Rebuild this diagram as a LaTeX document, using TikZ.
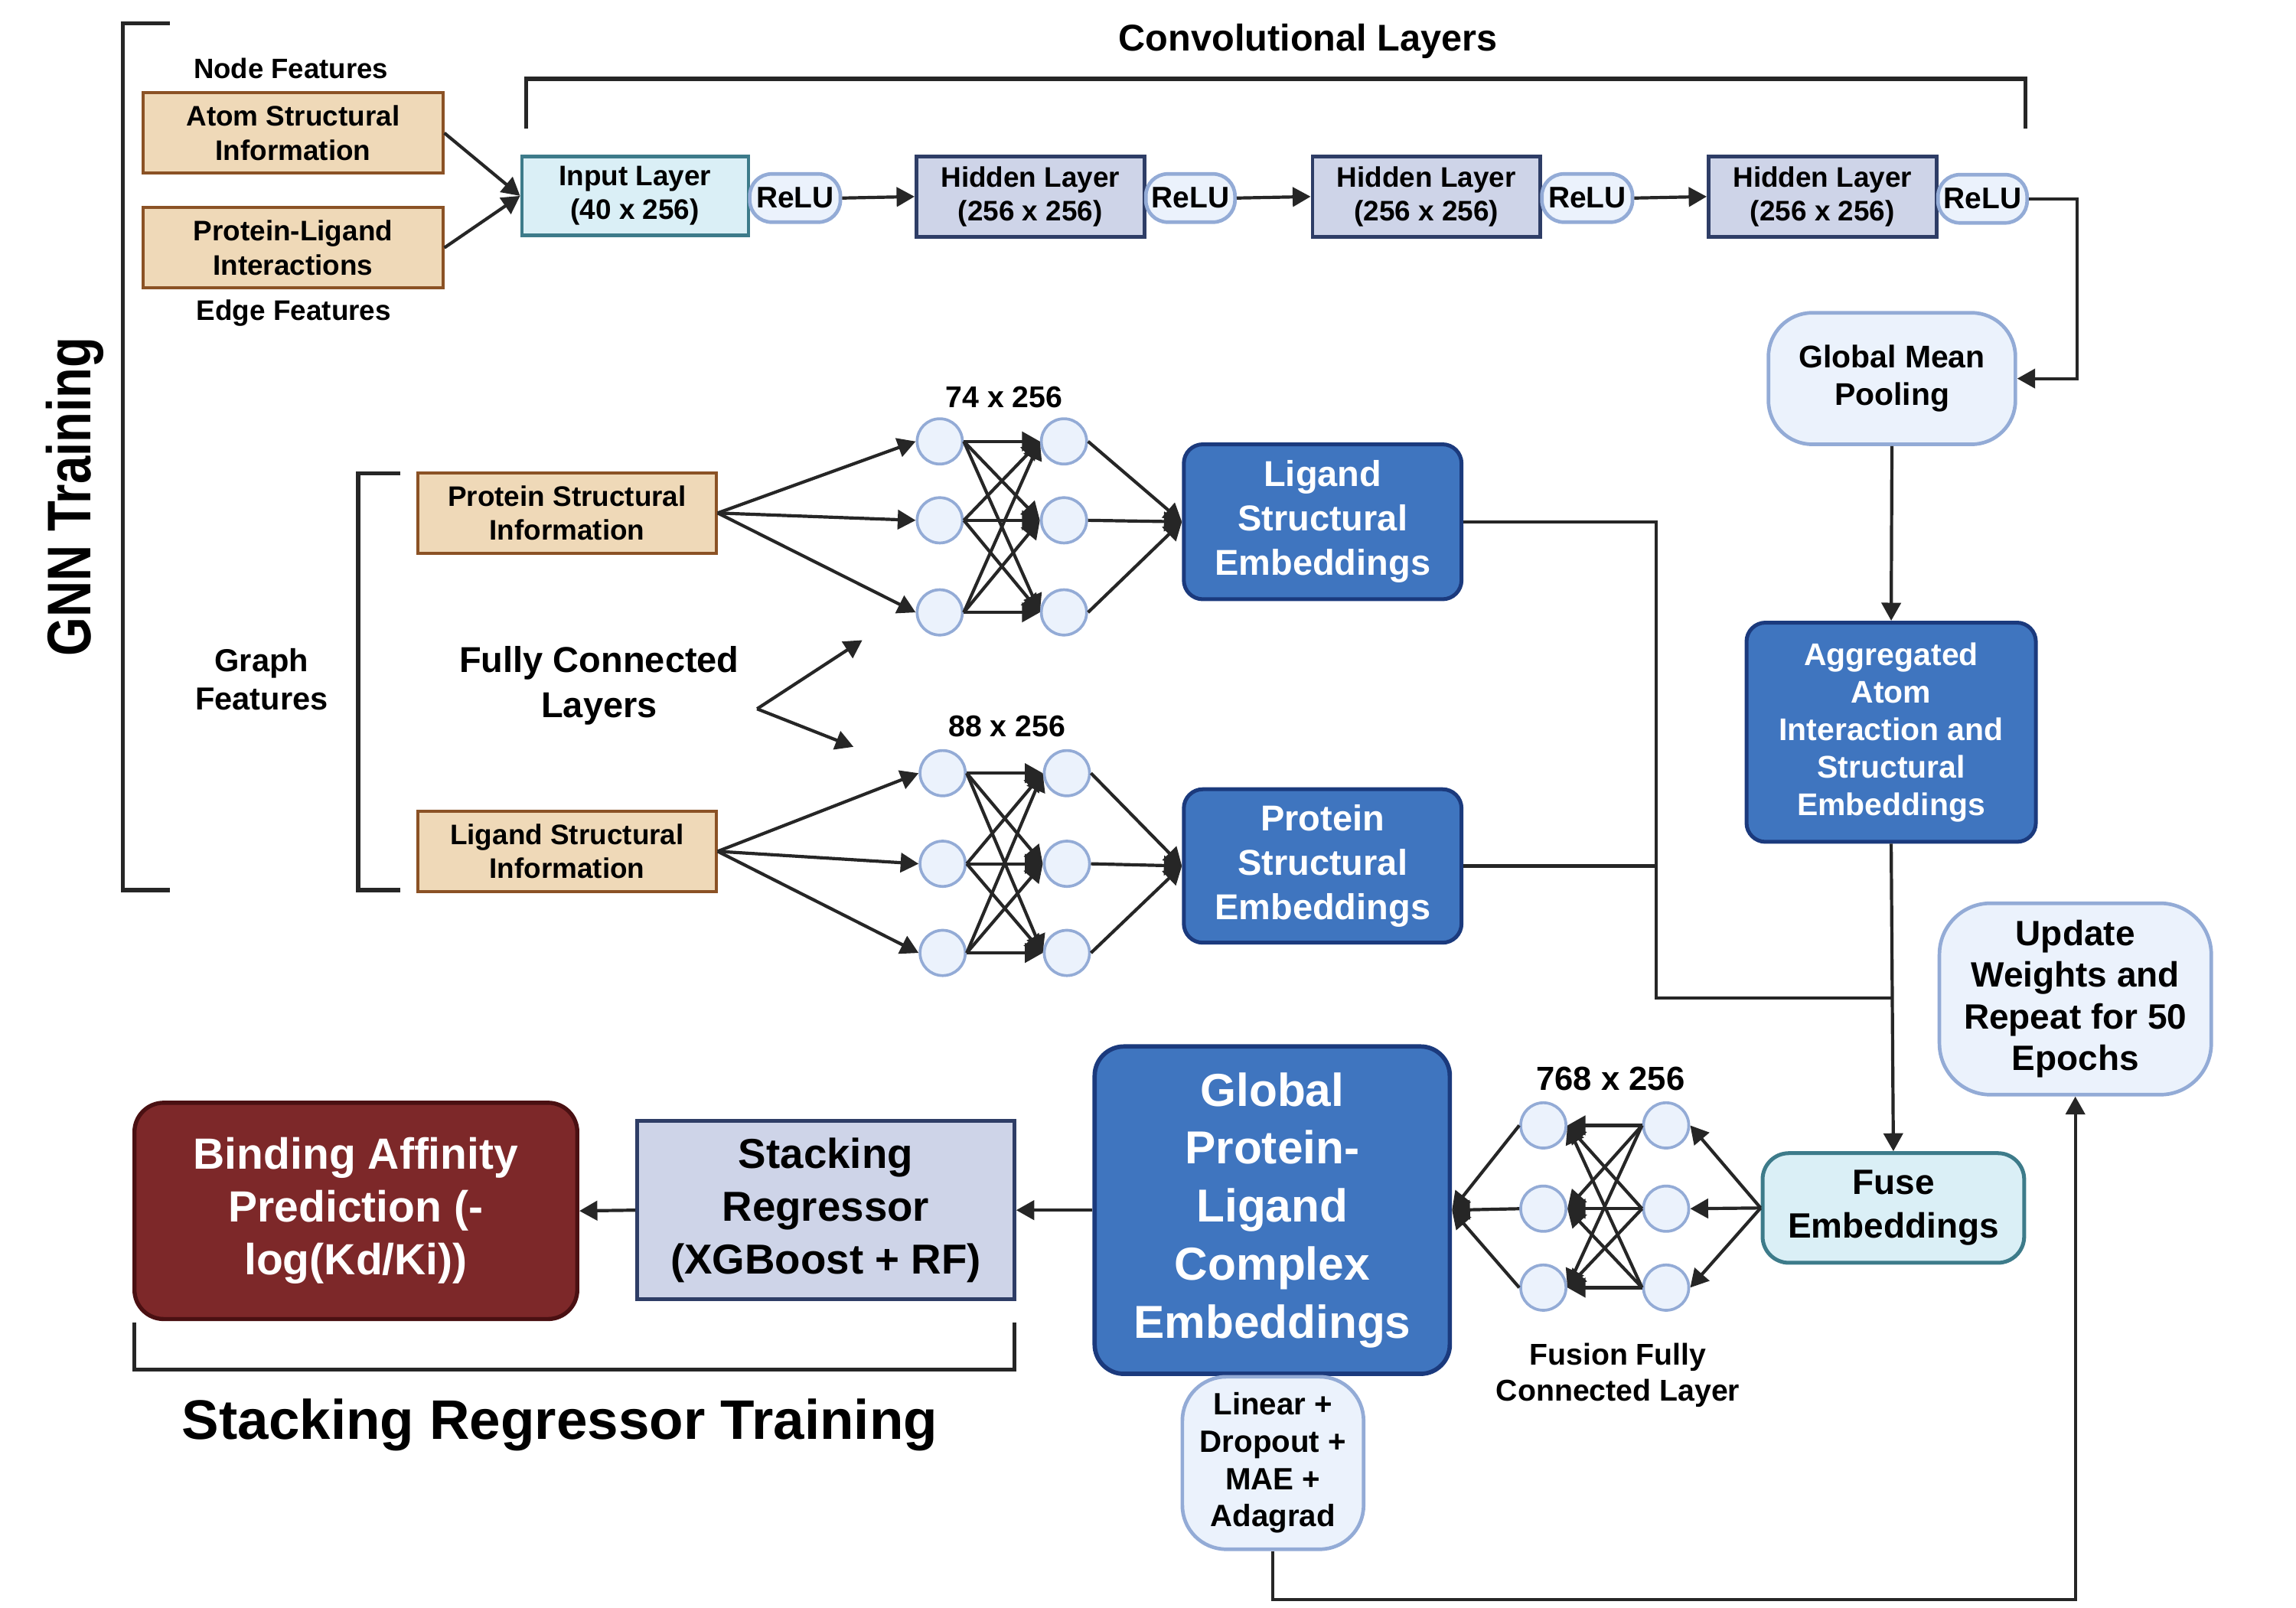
\documentclass[tikz,border=0pt]{standalone}
\usepackage{fontspec}
\setmainfont{Liberation Sans}
\usetikzlibrary{arrows.meta}
\newcommand\fsz[1]{\fontsize{#1}{\dimexpr #1*6/5\relax}\selectfont}
\definecolor{tanfill}{HTML}{EFD9B8}
\definecolor{tanedge}{HTML}{8B5225}
\definecolor{cyanfill}{HTML}{DAEFF6}
\definecolor{cyanedge}{HTML}{3D7B8A}
\definecolor{hidfill}{HTML}{CED4E8}
\definecolor{hidedge}{HTML}{2E3D66}
\definecolor{palefill}{HTML}{EBF2FC}
\definecolor{paleedge}{HTML}{93ABD6}
\definecolor{bluefill}{HTML}{3F75BF}
\definecolor{blueedge}{HTML}{1B3A7D}
\definecolor{redfill}{HTML}{7D2829}
\definecolor{rededge}{HTML}{4A1012}
\definecolor{ink}{HTML}{262626}
\begin{document}
\begin{tikzpicture}[x=0.02cm,y=-0.02cm,
  wh/.style 2 args={minimum width=#1*0.02cm, minimum height=#2*0.02cm},
  box/.style={draw, inner sep=0pt, align=center, line width=1.2pt},
  tanbox/.style={box, fill=tanfill, draw=tanedge, font=\bfseries\fsz{11pt}},
  inbox/.style={box, fill=cyanfill, draw=cyanedge, line width=1.3pt, font=\bfseries\fsz{11pt}},
  hidbox/.style={box, fill=hidfill, draw=hidedge, line width=1.4pt, font=\bfseries\fsz{11pt}},
  relu/.style={box, fill=palefill, draw=paleedge, line width=1.4pt, rounded corners=15*0.02cm, font=\bfseries\fsz{11.6pt}},
  palebox/.style={box, fill=palefill, draw=paleedge, line width=1.4pt},
  bluebox/.style={box, fill=bluefill, draw=blueedge, line width=1.5pt, rounded corners=13*0.02cm, text=white},
  lbl/.style={align=center, inner sep=0pt},
  conn/.style={draw=ink, line width=1.25pt},
  arr/.style={conn, -{Triangle[length=7pt,width=7.5pt]}},
  brk/.style={draw=ink, line width=1.6pt},
  neuron/.style={circle, draw=paleedge, fill=palefill, line width=1.1pt, minimum size=31*0.02cm, inner sep=0pt},
]
\useasboundingbox (0,0) rectangle (1571,1100);

% ---------- brackets ----------
\draw[brk] (116,16) -- (84,16) -- (84,609) -- (116,609);
\draw[brk] (274,324) -- (245,324) -- (245,609) -- (274,609);
\draw[brk] (360,88) -- (360,54) -- (1386,54) -- (1386,88);
\draw[brk] (92,905) -- (92,937) -- (694,937) -- (694,905);

% ---------- labels ----------
\node[lbl, rotate=90, font=\bfseries\fontsize{24pt}{28pt}\selectfont] (gnn) at (51,340) {\scalebox{0.81}[1]{GNN Training}};
\node[lbl, font=\bfseries\fsz{10.9pt}] (nodef) at (199,47) {Node Features};
\node[lbl, font=\bfseries\fsz{11pt}] (edgef) at (201,214) {Edge Features};
\node[lbl, font=\bfseries\fsz{14.5pt}] (convl) at (895,28) {Convolutional Layers};
\node[lbl, font=\bfseries\fsz{12.4pt}] (graphf) at (179,465) {Graph\\Features};
\node[lbl, font=\bfseries\fontsize{14pt}{17.6pt}\selectfont] (fcl) at (410,469) {Fully Connected\\Layers};
\node[lbl, font=\bfseries\fsz{11.7pt}] (l74) at (687,272) {74 x 256};
\node[lbl, font=\bfseries\fsz{11.7pt}] (l88) at (689,497) {88 x 256};
\node[lbl, font=\bfseries\fsz{13pt}] (l768) at (1102,738) {768 x 256};
\node[lbl, font=\bfseries\fsz{11.7pt}] (fusl) at (1107,941) {Fusion Fully\\Connected Layer};
\node[lbl, font=\bfseries\fsz{21.7pt}] (srt) at (383,975) {Stacking Regressor Training};

% ---------- top row ----------
\node[tanbox, wh={205}{55}] (atom) at (200.5,91) {Atom Structural\\Information};
\node[tanbox, wh={205}{55}] (pli) at (200.5,169.5) {Protein-Ligand\\Interactions};
\node[inbox, wh={155}{54}] (input) at (434.5,134) {Input Layer\\(40 x 256)};
\node[relu, wh={62}{33}] (relu1) at (544,135.5) {ReLU};
\node[hidbox, wh={156}{55}] (hid1) at (705,134.5) {Hidden Layer\\(256 x 256)};
\node[relu, wh={61}{33}] (relu2) at (814.5,135.5) {ReLU};
\node[hidbox, wh={156}{55}] (hid2) at (976,134.5) {Hidden Layer\\(256 x 256)};
\node[relu, wh={62}{33}] (relu3) at (1086,135.5) {ReLU};
\node[hidbox, wh={156}{55}] (hid3) at (1247,134.5) {Hidden Layer\\(256 x 256)};
\node[relu, wh={61}{33}] (relu4) at (1356.5,136) {ReLU};
\node[palebox, wh={169}{90}, rounded corners=30*0.02cm, font=\bfseries\fontsize{12.2pt}{14.6pt}\selectfont] (gmp) at (1294.5,259) {Global Mean\\Pooling};

\draw[arr] (atom.east) -- (input.west);
\draw[arr] (pli.east) -- (input.west);
\draw[arr] (relu1.east) -- (hid1.west);
\draw[arr] (relu2.east) -- (hid2.west);
\draw[arr] (relu3.east) -- (hid3.west);
\draw[arr] (relu4.east) -- ++(33,0) |- (gmp.east);

% ---------- middle row ----------
\node[tanbox, wh={204}{55}] (psi) at (388,351) {Protein Structural\\Information};
\node[tanbox, wh={204}{55}] (lsi) at (388,582.5) {Ligand Structural\\Information};
\node[bluebox, wh={190}{106}, font=\bfseries\fontsize{14pt}{17.3pt}\selectfont] (lse) at (905,357) {Ligand\\Structural\\Embeddings};
\node[bluebox, wh={190}{105}, font=\bfseries\fontsize{14pt}{17.3pt}\selectfont] (pse) at (905,592.5) {Protein\\Structural\\Embeddings};
\node[bluebox, wh={198}{150}, font=\bfseries\fontsize{12.2pt}{14.6pt}\selectfont] (agg) at (1294,501) {Aggregated\\Atom\\Interaction and\\Structural\\Embeddings};

% net 1
\foreach \i/\y in {1/302,2/356,3/419}{
  \node[neuron] (na\i) at (643,\y) {};
  \node[neuron] (nb\i) at (728,\y) {};
}
% net 2
\foreach \i/\y in {1/529,2/591,3/652}{
  \node[neuron] (nc\i) at (645,\y) {};
  \node[neuron] (nd\i) at (730,\y) {};
}
\foreach \i in {1,2,3}{
  \draw[arr] (psi.east) -- (na\i.west);
  \draw[arr] (lsi.east) -- (nc\i.west);
  \foreach \j in {1,2,3}{
    \draw[arr] (na\i.east) -- (nb\j.west);
    \draw[arr] (nc\i.east) -- (nd\j.west);
  }
  \draw[arr] (nb\i.east) -- (lse.west);
  \draw[arr] (nd\i.east) -- (pse.west);
}

\coordinate (fclo) at (518,485);
\coordinate (fclt1) at (590,438);
\coordinate (fclt2) at (584,511);
\draw[arr] (fclo) -- (fclt1);
\draw[arr] (fclo) -- (fclt2);

\draw[arr] (gmp.south) -- (agg.north);

% ---------- bottom row ----------
\node[box, fill=cyanfill, draw=cyanedge, line width=1.5pt, rounded corners=18*0.02cm, wh={179}{75}, font=\bfseries\fontsize{13.7pt}{17pt}\selectfont] (fuse) at (1295.5,826.5) {Fuse\\Embeddings};
\node[palebox, wh={186}{131}, rounded corners=35*0.02cm, font=\bfseries\fontsize{13.7pt}{16.2pt}\selectfont] (upd) at (1420,683.5) {Update\\Weights and\\Repeat for 50\\Epochs};
\node[bluebox, wh={243}{224}, line width=1.7pt, rounded corners=20*0.02cm, font=\bfseries\fontsize{18pt}{22.6pt}\selectfont] (glob) at (870.5,828) {Global\\Protein-\\Ligand\\Complex\\Embeddings};
\node[palebox, wh={124}{118}, rounded corners=30*0.02cm, font=\bfseries\fontsize{12pt}{14.5pt}\selectfont] (lin) at (871,1001) {Linear +\\Dropout +\\MAE +\\Adagrad};
\node[box, fill=hidfill, draw=hidedge, line width=1.5pt, wh={258}{122}, font=\bfseries\fontsize{16.3pt}{20.5pt}\selectfont] (stack) at (565,828) {Stacking\\Regressor\\(XGBoost + RF)};
\node[box, fill=redfill, draw=rededge, line width=1.6pt, rounded corners=20*0.02cm, wh={303}{148}, text=white, font=\bfseries\fontsize{17pt}{20.5pt}\selectfont] (bind) at (243.5,828.5) {Binding Affinity\\Prediction (-\\log(Kd/Ki))};

% fusion net
\foreach \i/\y in {1/770,2/827,3/881}{
  \node[neuron] (fa\i) at (1056,\y) {};
  \node[neuron] (fb\i) at (1140,\y) {};
}
\foreach \i in {1,2,3}{
  \draw[arr] (fuse.west) -- (fb\i.east);
  \foreach \j in {1,2,3}{
    \draw[arr] (fb\i.west) -- (fa\j.east);
  }
  \draw[arr] (fa\i.west) -- (glob.east);
}

% connectors to fuse
\coordinate (jv) at (1133,683);
\coordinate (jm) at (agg.south |- jv);
\draw[conn] (lse.east) -| (jv) -- (jm);
\draw[conn] (pse.east) -- (pse.east -| jv);
\draw[arr] (agg.south) -- (fuse.north);

\draw[arr] (glob.west) -- (stack.east);
\draw[arr] (stack.west) -- (bind.east);
\draw[arr] (lin.south) -- ++(0,33) -| (upd.south);
\end{tikzpicture}
\end{document}
